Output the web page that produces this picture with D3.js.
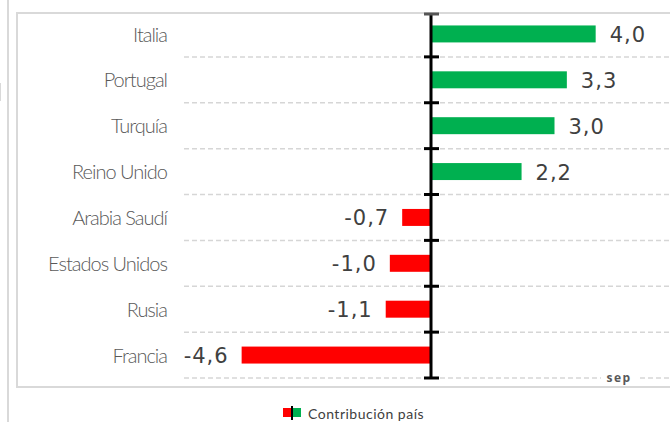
<!DOCTYPE html>
<html>
<head>
<meta charset="utf-8">
<script src="https://cdn.jsdelivr.net/npm/d3@7"></script>
<style>
  body { margin: 0; background: #fff; }
  .cat { font-family: Lato, "Open Sans", sans-serif; font-size: 20px; font-weight: 300; fill: #595959; letter-spacing: -1px; }
  .val { font-family: "DejaVu Sans", sans-serif; font-size: 21px; fill: #404040; letter-spacing: 1px; }
</style>
</head>
<body>
<div id="chart"></div>
<script>
// contribución por país, sep
const countries = ['Italia', 'Portugal', 'Turquía', 'Reino Unido', 'Arabia Saudí', 'Estados Unidos', 'Rusia', 'Francia'];
const contributions = [4.0, 3.3, 3.0, 2.2, -0.7, -1.0, -1.1, -4.6];
const xDomain = [-6, 6];
const legendLabel = 'Contribución país';
const monthLabel = 'sep';

const W = 670, H = 422;
const plot = {left: 184, right: 678, top: 11, bottom: 378};

const fmt = d3.formatLocale({decimal: ',', thousands: '.', grouping: [3], currency: ['', ' €'], minus: '-'}).format('.1f');

const svg = d3.select('#chart').append('svg')
    .attr('width', W)
    .attr('height', H);

let x = d3.scaleLinear()
    .domain(xDomain)
    .range([plot.left, plot.right]);

let y = d3.scaleBand()
    .domain(countries)
    .range([plot.top, plot.bottom])
    .paddingInner(0.63)
    .paddingOuter(0.315);

const data = countries.map((c, i) => ({country: c, value: contributions[i]}));
const bounds = d3.range(1, countries.length + 1).map(i => plot.top + i * y.step());

// outer frame bits
svg.append('line')
    .attr('x1', 8).attr('x2', 8).attr('y1', 0).attr('y2', H)
    .attr('stroke', '#d9d9d9').attr('stroke-width', 2);
svg.append('line')
    .attr('x1', 0.5).attr('x2', 0.5).attr('y1', 83).attr('y2', 101)
    .attr('stroke', '#d9d9d9').attr('stroke-width', 1);

// plot area border
svg.append('path')
    .attr('d', 'M' + W + ',13H17V387H' + W)
    .attr('fill', 'none')
    .attr('stroke', '#d9d9d9')
    .attr('stroke-width', 2);

// dashed gridlines at category boundaries
svg.append('g')
    .selectAll('line')
    .data(bounds)
    .enter()
    .append('line')
    .attr('x1', plot.left)
    .attr('x2', W)
    .attr('y1', d => d)
    .attr('y2', d => d)
    .attr('stroke', '#d6d6d6')
    .attr('stroke-width', 1.5)
    .attr('stroke-dasharray', '5,3');

// bars
svg.append('g')
    .selectAll('rect')
    .data(data)
    .enter()
    .append('rect')
    .attr('x', d => x(Math.min(0, d.value)))
    .attr('y', d => y(d.country))
    .attr('width', d => Math.abs(x(d.value) - x(0)))
    .attr('height', y.bandwidth())
    .attr('fill', d => d.value >= 0 ? '#00b050' : '#ff0000');

// value labels
svg.append('g')
    .selectAll('text')
    .data(data)
    .enter()
    .append('text')
    .attr('class', 'val')
    .attr('x', d => d.value >= 0 ? x(d.value) + 14 : x(d.value) - 13)
    .attr('y', d => y(d.country) + y.bandwidth() / 2)
    .attr('dy', '0.38em')
    .attr('text-anchor', d => d.value >= 0 ? 'start' : 'end')
    .text(d => fmt(d.value));

// category labels
svg.append('g')
    .selectAll('text')
    .data(countries)
    .enter()
    .append('text')
    .attr('class', 'cat')
    .attr('x', 167)
    .attr('y', d => y(d) + y.bandwidth() / 2)
    .attr('dy', '0.38em')
    .attr('text-anchor', 'end')
    .text(d => d);

// zero axis with ticks between categories
const x0 = x(0);
svg.append('line')
    .attr('x1', x0).attr('x2', x0)
    .attr('y1', 14).attr('y2', plot.bottom + 1)
    .attr('stroke', '#000').attr('stroke-width', 3);
svg.append('g')
    .selectAll('line')
    .data([14].concat(bounds))
    .enter()
    .append('line')
    .attr('x1', x0 - 7)
    .attr('x2', x0 + 8)
    .attr('y1', d => d)
    .attr('y2', d => d)
    .attr('stroke', (d, i) => i === 0 ? '#555' : '#000')
    .attr('stroke-width', 3);

// period label on the bottom gridline
const mx = 619;
svg.append('rect')
    .attr('x', mx - 18).attr('y', plot.bottom - 6)
    .attr('width', 36).attr('height', 12)
    .attr('fill', '#fff');
svg.append('text')
    .attr('x', mx)
    .attr('y', plot.bottom)
    .attr('dy', '0.36em')
    .attr('text-anchor', 'middle')
    .style('font-family', '"Open Sans", sans-serif')
    .style('font-size', '12px')
    .style('font-weight', 'bold')
    .style('letter-spacing', '1.5px')
    .style('fill', '#595959')
    .text(monthLabel);

// legend
const lg = svg.append('g').attr('transform', 'translate(283,413)');
lg.append('rect').attr('x', 0).attr('y', -5).attr('width', 8).attr('height', 9).attr('fill', '#ff0000');
lg.append('rect').attr('x', 10).attr('y', -5).attr('width', 8).attr('height', 9).attr('fill', '#00b050');
lg.append('rect').attr('x', 8).attr('y', -7).attr('width', 2).attr('height', 14).attr('fill', '#000');
lg.append('text')
    .attr('x', 25)
    .attr('y', 0)
    .attr('dy', '0.4em')
    .style('font-family', 'Lato, sans-serif')
    .style('font-size', '14px')
    .style('letter-spacing', '0.5px')
    .style('fill', '#404040')
    .text(legendLabel);
</script>
</body>
</html>
